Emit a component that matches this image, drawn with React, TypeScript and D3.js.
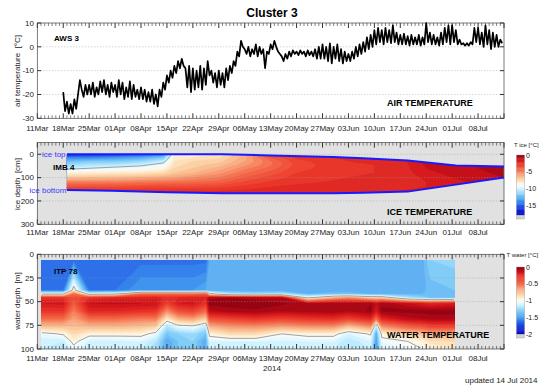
import { useEffect, useRef } from "react";
import * as d3 from "d3";

const FONT = "'Liberation Sans', Arial, Helvetica, sans-serif";

// ---- air temperature (AWS 3), every 12 h from 18 Mar ----
const airStartDay = 7;
const airTemp = [
  -19, -27, -23, -28, -24, -28, -22, -26, -20, -14, -18, -21, -16, -20,
  -16, -20, -15, -21, -17, -20, -14.5, -19, -14, -20, -16, -21, -15, -19,
  -16, -21, -14, -20, -15, -22, -17, -21, -14.5, -22, -16, -21, -18, -22,
  -17, -22, -18, -23, -19, -23, -18, -24, -20, -25, -18, -21, -15, -18,
  -12, -15, -10, -13, -8, -11, -6, -9, -5, -8, -9, -17, -8, -19,
  -9, -18, -10, -17, -8, -18, -9, -16, -6, -12, -10, -15, -11, -17,
  -10, -16, -11, -17, -9, -14, -8, -11, -6, -8, -2, -4, 2.5, 0,
  -1, -3, 0, -4, -1, -3, 1, -4, 0, -3, -1, -9, -2, -3,
  1, -1, 2.5, 0, -2, -3, -4, -6, -3, -5, -2, -4, -1.5, -3,
  -2, -3.5, -1.5, -3, -2, -4, -1.5, -3.5, -2, -4, -1, -5, 0, -5,
  1, -5, 0, -6, 1.5, -7, 0, -5, 1, -6, -1, -7, -2, -6,
  -3, -6, -2, -5, 0, -4, 1, -3, 2, -2, 4, -1, 5, 0,
  7, 1, 8, 2, 7, 1, 8, 2, 7, 1.5, 9, 2, 6, 1,
  5, 1, 5.5, 1, 4.5, 0.5, 5, 1, 4, 1, 5, 0.5, 4, 1,
  10, 2, 6, 1, 5, 1, 4, 0.5, 6, 1, 8, 2, 9, 1,
  9, 2, 7, 1, 3, 1, 1.5, 0.5, 1.5, 0.5, 2, 1, 8, 2,
  8, 1, 6, 0, 9, 1, 7, -1, 6, 0, 5, 0, 3, 1.5,
];

// ---- ice (IMB 4) ----
const iceLineDays = [8, 20, 35, 50, 63, 80, 88, 100, 113, 126];
const iceTop = [0, 0, 0, 0, 5, 12, 17, 27, 48, 52];
const iceBottom = [153, 156, 163, 167, 167, 167, 165, 160, 130, 100];

const iceDays = [7, 14, 21, 28, 34, 37, 42, 49, 56, 63, 70, 77, 84, 91, 98, 105, 112, 119, 126];
const iceDepths = [0, 15, 30, 45, 60, 80, 100, 120, 140, 160, 180];
const iceProfiles = [
  [-17, -14, -12.5, -11.5, -10.5, -8.5, -7, -5, -3.5, -2.3, -2],
  [-16, -14, -12, -11, -10, -8.3, -6.8, -5, -3.5, -2.3, -2],
  [-16, -13.5, -12, -10.8, -9.6, -8.2, -6.7, -5, -3.5, -2.3, -2],
  [-15, -13, -11.5, -10.3, -9.3, -8, -6.5, -4.8, -3.4, -2.3, -2],
  [-14, -12, -10.5, -9.5, -8.8, -7.6, -6.2, -4.7, -3.3, -2.3, -2],
  [-8.5, -8.2, -8, -7.8, -7.5, -7, -6, -4.6, -3.3, -2.3, -2],
  [-9.3, -8, -7.5, -7.2, -7, -6.5, -5.5, -4.5, -3.3, -2.4, -2],
  [-8, -7.6, -7.2, -6.8, -6.3, -5.7, -5, -4.2, -3.2, -2.4, -2],
  [-6.3, -6.2, -6, -5.7, -5.2, -4.6, -4, -3.4, -2.8, -2.3, -2],
  [-3.3, -4, -4.6, -4.6, -4.3, -3.8, -3.3, -2.9, -2.5, -2.2, -2],
  [-2.6, -2.9, -3.2, -3.3, -3.2, -3, -2.8, -2.6, -2.4, -2.2, -2],
  [-2.4, -2.6, -2.8, -2.9, -2.9, -2.8, -2.6, -2.5, -2.3, -2.1, -2],
  [-2.3, -2.4, -2.5, -2.6, -2.6, -2.6, -2.5, -2.4, -2.2, -2.1, -2],
  [-2.2, -2.3, -2.4, -2.5, -2.5, -2.5, -2.4, -2.3, -2.2, -2.1, -2],
  [-2, -2.1, -2.2, -2.3, -2.3, -2.3, -2.3, -2.2, -2.1, -2, -2],
  [-1.5, -1.5, -1.4, -1.4, -1.5, -1.7, -1.9, -2, -2, -2, -2],
  [-1.2, -1.2, -1.2, -1.2, -1.2, -1.3, -1.5, -1.7, -1.8, -1.9, -1.9],
  [-1, -1, -1, -1, -1, -1.1, -1.2, -1.4, -1.6, -1.8, -1.8],
  [-0.8, -0.8, -0.8, -0.8, -0.8, -0.9, -1, -1.2, -1.5, -1.7, -1.7],
];

// ---- water (ITP 78) ----
const waterDays = [1, 7, 9.8, 14, 21, 28, 32, 35, 38, 42, 45.5, 46.5, 52, 59, 66, 73, 80, 84, 90, 91.5, 93, 100, 104, 106, 112.8];
const waterDepths = [6, 38, 42, 46, 52, 60, 68, 76, 84, 92, 100];
const waterProfiles = [
  [-1.62, -1.6, -1.0, -0.28, -0.2, -0.3, -0.5, -0.75, -1.05, -1.15, -1.15],
  [-1.62, -1.6, -1.0, -0.3, -0.18, -0.3, -0.5, -0.75, -0.98, -1.15, -1.2],
  [-1.62, -0.9, -0.5, -0.4, -0.45, -0.55, -0.65, -0.75, -0.85, -0.95, -1.05],
  [-1.62, -1.6, -1.05, -0.3, -0.15, -0.25, -0.5, -0.72, -0.95, -1.12, -1.15],
  [-1.62, -1.6, -1.0, -0.25, -0.14, -0.25, -0.5, -0.72, -0.95, -1.12, -1.15],
  [-1.62, -1.5, -0.5, -0.25, -0.15, -0.28, -0.55, -0.75, -0.95, -1.1, -1.15],
  [-1.62, -1.5, -0.5, -0.22, -0.16, -0.3, -0.55, -0.8, -1.05, -1.2, -1.25],
  [-1.62, -1.5, -0.5, -0.28, -0.35, -0.6, -0.9, -1.2, -1.35, -1.45, -1.45],
  [-1.62, -1.5, -0.5, -0.25, -0.2, -0.4, -0.7, -1.05, -1.3, -1.35, -1.35],
  [-1.62, -1.5, -0.5, -0.22, -0.18, -0.35, -0.65, -1.02, -1.25, -1.3, -1.3],
  [-1.62, -1.45, -0.45, -0.25, -0.3, -0.5, -0.8, -1.15, -1.35, -1.45, -1.45],
  [-1.45, -1.45, -0.9, -0.06, -0.03, -0.12, -0.4, -0.7, -0.95, -1.1, -1.15],
  [-1.45, -1.45, -1.2, -0.05, -0.02, -0.08, -0.35, -0.62, -0.85, -1.1, -1.15],
  [-1.45, -1.45, -1.25, -0.08, -0.02, -0.06, -0.3, -0.6, -0.85, -1.1, -1.15],
  [-1.45, -1.45, -1.2, -0.1, -0.04, -0.1, -0.35, -0.65, -1.0, -1.12, -1.15],
  [-1.45, -1.45, -1.4, -1.0, -0.1, -0.08, -0.3, -0.6, -0.95, -1.1, -1.15],
  [-1.45, -1.45, -1.35, -0.7, -0.06, -0.06, -0.28, -0.6, -0.95, -1.1, -1.15],
  [-1.45, -1.45, -1.35, -0.6, -0.08, -0.1, -0.35, -0.75, -1.1, -1.2, -1.2],
  [-1.45, -1.45, -1.4, -0.8, -0.05, -0.04, -0.25, -0.6, -0.98, -1.1, -1.15],
  [-1.45, -1.45, -1.4, -0.8, -0.15, -0.2, -0.5, -1.2, -1.45, -1.5, -1.5],
  [-1.45, -1.45, -1.4, -0.8, -0.06, -0.04, -0.25, -0.6, -0.95, -1.05, -1.1],
  [-1.42, -1.42, -1.4, -1.2, -0.15, -0.03, -0.12, -0.45, -0.8, -1.0, -1.05],
  [-1.42, -1.42, -1.4, -1.3, -0.2, -0.03, -0.1, -0.4, -0.75, -0.95, -1.0],
  [-1.3, -1.38, -1.4, -1.35, -0.25, -0.03, -0.08, -0.35, -0.7, -0.88, -0.95],
  [-1.28, -1.35, -1.4, -1.35, -0.2, -0.03, -0.08, -0.35, -0.7, -0.85, -0.9],
];

const airTicks = [10, 0, -10, -20, -30];
const iceTicks = [0, 100, 200, 300];
const waterTicks = [0, 25, 50, 75, 100];
const iceBarTicks = [0, -5, -10, -15];
const waterBarTicks = [0, -0.5, -1, -1.5, -2];

// colormap shared by both fields (0 = warm end, 1 = cold end)
const cmap = d3
  .scaleLinear<string>()
  .domain([0, 0.08, 0.16, 0.25, 0.33, 0.41, 0.48, 0.52, 0.58, 0.66, 0.75, 0.85, 0.93, 1])
  .range(["#8c0012", "#cf121a", "#ec3a2c", "#f46b4a", "#f8a47c", "#fcd5a8", "#fff6e2", "#f2fcff", "#c4efff", "#84cdf8", "#449df0", "#1f55e6", "#0a1ed8", "#0000a6"])
  .clamp(true);
const iceColor = (t: number) => cmap(-t / 18);
const waterColor = (t: number) => cmap(-t / 2);

const start = new Date(2014, 2, 11);
const xDay = d3.scaleLinear().domain([0, 126]).range([37.3, 504]);
const yAir = d3.scaleLinear().domain([-30, 10]).range([118.3, 23]);
const yIce = d3.scaleLinear().domain([-50, 300]).range([142.6, 224.3]);
const yWater = d3.scaleLinear().domain([0, 100]).range([254.3, 349]);

function frame(g: any, y: any, ticks: number[], grid: number[], bg: string, labelY: number) {
  const [t, b] = [y.range()[0], y.range()[1]].sort((a, c) => a - c);
  const x0 = xDay.range()[0];
  const x1 = xDay.range()[1];
  g.append("rect").attr("x", x0).attr("y", t).attr("width", x1 - x0).attr("height", b - t).attr("fill", bg);
  return () => {
    grid.forEach((v) => {
      g.append("line").attr("x1", x0).attr("x2", x1).attr("y1", y(v)).attr("y2", y(v))
        .attr("stroke", "#9a9a9a").attr("stroke-width", 0.6).attr("stroke-dasharray", "1,2");
    });
    d3.range(0, 127).forEach((d) => {
      const len = d % 7 === 0 ? 5 : 3;
      const xx = xDay(d);
      g.append("line").attr("x1", xx).attr("x2", xx).attr("y1", t).attr("y2", t + len)
        .attr("stroke", "#333").attr("stroke-width", d % 7 === 0 ? 1 : 0.6);
      g.append("line").attr("x1", xx).attr("x2", xx).attr("y1", b).attr("y2", b - len)
        .attr("stroke", "#333").attr("stroke-width", d % 7 === 0 ? 1 : 0.6);
    });
    ticks.forEach((v) => {
      g.append("line").attr("x1", x0).attr("x2", x0 + 4).attr("y1", y(v)).attr("y2", y(v)).attr("stroke", "#333");
      g.append("line").attr("x1", x1).attr("x2", x1 - 4).attr("y1", y(v)).attr("y2", y(v)).attr("stroke", "#333");
      g.append("text").attr("x", 34).attr("y", y(v) + 2.8).attr("text-anchor", "end")
        .attr("font-size", 8).attr("fill", "#222").text(v);
    });
    g.append("rect").attr("x", x0).attr("y", t).attr("width", x1 - x0).attr("height", b - t)
      .attr("fill", "none").attr("stroke", "#444").attr("stroke-width", 0.7);
    d3.range(0, 120, 7).forEach((d) => {
      g.append("text").attr("x", xDay(d)).attr("y", labelY).attr("text-anchor", "middle")
        .attr("font-size", 8).attr("fill", "#222")
        .text(d3.timeFormat("%d%b")(d3.timeDay.offset(start, d)));
    });
  };
}

function contourField(g: any, days: number[], depths: number[], profiles: number[][], thresholds: number[], step: number, color: (t: number) => string, y: any, lineLevel: number, clipFill: string, clipLine: string) {
  const n = days.length;
  const m = depths.length;
  const values: number[] = new Array(n * m);
  for (let j = 0; j < m; j++) for (let i = 0; i < n; i++) values[j * n + i] = profiles[i][j];
  const ci = d3.scaleLinear().domain(d3.range(n)).range(days).clamp(true);
  const rj = d3.scaleLinear().domain(d3.range(m)).range(depths).clamp(true);
  const toPath = (geom: any) =>
    geom.coordinates
      .map((poly: any) =>
        poly.map((ring: any) => "M" + ring.map(([u, v]: number[]) => `${xDay(ci(u - 0.5)).toFixed(2)},${y(rj(v - 0.5)).toFixed(2)}`).join("L") + "Z").join("")
      )
      .join("");
  const fills = g.append("g").attr("clip-path", `url(#${clipFill})`);
  d3.contours().size([n, m]).thresholds(thresholds)(values).forEach((c: any) => {
    fills.append("path").attr("d", toPath(c)).attr("fill", color(c.value + step / 2)).attr("stroke", color(c.value + step / 2)).attr("stroke-width", 0.3);
  });
  const line = d3.contours().size([n, m]).thresholds([lineLevel])(values)[0];
  g.append("g").attr("clip-path", `url(#${clipLine})`).append("path").attr("d", toPath(line))
    .attr("fill", "none").attr("stroke", "#8a8a8a").attr("stroke-width", 0.8);
}

export default function App() {
  const ref = useRef<SVGSVGElement>(null);

  useEffect(() => {
    const svg = d3.select(ref.current);
    svg.selectAll("*").remove();
    svg.attr("font-family", FONT);
    const defs = svg.append("defs");

    // ---------- air ----------
    const g1 = svg.append("g");
    const finish1 = frame(g1, yAir, airTicks, [0, -10, -20], "#ffffff", 131);
    finish1();
    g1.append("path")
      .datum(airTemp)
      .attr("fill", "none")
      .attr("stroke", "#000")
      .attr("stroke-width", 1.7)
      .attr("stroke-linejoin", "round")
      .attr("d", d3.line<number>().x((d, i) => xDay(airStartDay + i * 0.5)).y((d) => yAir(d)));
    g1.append("text").attr("x", 54).attr("y", 41).attr("font-size", 8).attr("font-weight", "bold").text("AWS 3");
    g1.append("text").attr("x", 387).attr("y", 106).attr("font-size", 9).attr("font-weight", "bold").text("AIR TEMPERATURE");

    // ---------- ice ----------
    const iceRows = iceLineDays.map((d, i) => ({ day: d, top: iceTop[i], bottom: iceBottom[i] }));
    const iceArea = d3.area<any>().x((d) => xDay(d.day)).y0((d) => yIce(d.top)).y1((d) => yIce(d.bottom));
    defs.append("clipPath").attr("id", "iceClip").append("path").attr("d", iceArea(iceRows));
    const g2 = svg.append("g");
    const finish2 = frame(g2, yIce, iceTicks, [0, 100, 200], "#e1e1e1", 235);
    contourField(g2, iceDays, iceDepths, iceProfiles, d3.range(-18, 0, 0.5), 0.5, iceColor, yIce, -10, "iceClip", "iceClip");
    finish2();
    const lineTop = d3.line<any>().x((d) => xDay(d.day)).y((d) => yIce(d.top));
    const lineBot = d3.line<any>().x((d) => xDay(d.day)).y((d) => yIce(d.bottom));
    g2.append("path").attr("d", lineTop(iceRows)).attr("fill", "none").attr("stroke", "#1a1aff").attr("stroke-width", 2);
    g2.append("path").attr("d", lineBot(iceRows)).attr("fill", "none").attr("stroke", "#1a1aff").attr("stroke-width", 2);
    g2.append("text").attr("x", 42).attr("y", 157).attr("font-size", 8).attr("fill", "#3a3aff").text("ice top");
    g2.append("text").attr("x", 29.5).attr("y", 193).attr("font-size", 8).attr("fill", "#3a3aff").text("ice bottom");
    g2.append("text").attr("x", 53).attr("y", 170).attr("font-size", 8).attr("font-weight", "bold").text("IMB 4");
    g2.append("text").attr("x", 387).attr("y", 214.5).attr("font-size", 9).attr("font-weight", "bold").text("ICE TEMPERATURE");

    // ---------- water ----------
    const wx0 = xDay(waterDays[0]);
    const wx1 = xDay(waterDays[waterDays.length - 1]);
    defs.append("clipPath").attr("id", "waterClip").append("rect")
      .attr("x", wx0).attr("y", yWater(waterDepths[0])).attr("width", wx1 - wx0).attr("height", yWater(100) - yWater(waterDepths[0]));
    defs.append("clipPath").attr("id", "waterLineClip").append("rect")
      .attr("x", wx0 + 1).attr("y", yWater(waterDepths[0])).attr("width", wx1 - wx0 - 2).attr("height", yWater(100) - yWater(waterDepths[0]) - 1);
    const g3 = svg.append("g");
    const finish3 = frame(g3, yWater, waterTicks, [25, 50, 75], "#e1e1e1", 360.5);
    contourField(g3, waterDays, waterDepths, waterProfiles, d3.range(-2, 0, 0.05), 0.05, waterColor, yWater, -1, "waterClip", "waterLineClip");
    finish3();
    g3.append("text").attr("x", 54).attr("y", 273.5).attr("font-size", 8).attr("font-weight", "bold").text("ITP 78");
    g3.append("text").attr("x", 387).attr("y", 337.5).attr("font-size", 9).attr("font-weight", "bold").text("WATER TEMPERATURE");

    // ---------- axis titles ----------
    const ylab = (cy: number, label: string) =>
      svg.append("text").attr("transform", `translate(19.5,${cy}) rotate(-90)`).attr("text-anchor", "middle")
        .attr("font-size", 8).attr("fill", "#222").attr("xml:space", "preserve").text(label);
    ylab(71, "air temperature  [°C]");
    ylab(184, "ice depth  [cm]");
    ylab(301, "water depth  [m]");

    svg.append("text").attr("x", 272).attr("y", 16.5).attr("text-anchor", "middle").attr("font-size", 12).attr("font-weight", "bold").text("Cluster 3");
    svg.append("text").attr("x", 272).attr("y", 370.5).attr("text-anchor", "middle").attr("font-size", 8).attr("fill", "#222").text("2014");
    svg.append("text").attr("x", 465).attr("y", 383).attr("font-size", 8).attr("fill", "#222").text("updated 14 Jul 2014");

    // ---------- colorbars ----------
    const colorbar = (ys: any, tmin: number, color: (t: number) => string, ticks: number[], title: string, titleX: number, titleY: number) => {
      const cb = svg.append("g");
      const n = 72;
      d3.range(n).forEach((k) => {
        const a = (tmin * k) / n;
        const b = (tmin * (k + 1)) / n;
        cb.append("rect").attr("x", 516.5).attr("y", ys(a)).attr("width", 8).attr("height", ys(b) - ys(a) + 0.4).attr("fill", color((a + b) / 2));
      });
      const yb = ys(tmin);
      cb.append("rect").attr("x", 516.5).attr("y", yb + 0.5).attr("width", 8).attr("height", 3.5).attr("fill", "#d2d2d2");
      cb.append("rect").attr("x", 516.5).attr("y", ys(0)).attr("width", 8).attr("height", yb + 4 - ys(0)).attr("fill", "none").attr("stroke", "#999").attr("stroke-width", 0.4);
      ticks.forEach((v) => {
        cb.append("text").attr("x", 526).attr("y", ys(v) + 2.5).attr("font-size", 7).attr("fill", "#222").text(v);
      });
      cb.append("text").attr("x", titleX).attr("y", titleY).attr("font-size", 6).attr("fill", "#222").text(title);
    };
    colorbar(d3.scaleLinear().domain([0, -18]).range([155, 215]), -18, iceColor, iceBarTicks, "T ice [°C]", 514, 147);
    colorbar(d3.scaleLinear().domain([0, -2]).range([267, 334]), -2, waterColor, waterBarTicks, "T water [°C]", 506.5, 256.5);
  }, []);

  return (
    <div style={{ position: "absolute", left: 0, top: 0, width: 545, height: 385, overflow: "hidden", background: "#fff" }}>
      <svg ref={ref} width={545} height={385} />
    </div>
  );
}
